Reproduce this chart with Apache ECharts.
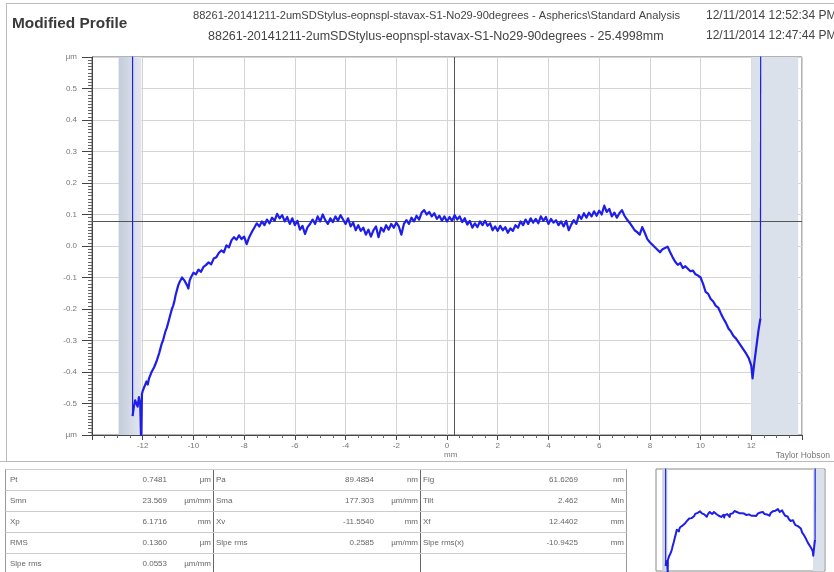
<!DOCTYPE html>
<html><head><meta charset="utf-8">
<script src="https://cdn.jsdelivr.net/npm/echarts@6/dist/echarts.min.js"></script>
<style>html,body{margin:0;padding:0;background:#fff}#c{width:834px;height:572px}</style>
</head><body><div id="c"></div>
<script>
const titleText = 'Modified Profile';
const headerLine1 = '88261-20141211-2umSDStylus-eopnspl-stavax-S1-No29-90degrees - Aspherics\\Standard Analysis';
const headerLine2 = '88261-20141211-2umSDStylus-eopnspl-stavax-S1-No29-90degrees - 25.4998mm';
const headerDate1 = '12/11/2014 12:52:34 PM';
const headerDate2 = '12/11/2014 12:47:44 PM';
const xUnit = 'mm';
const yUnit = 'µm';
const brandText = 'Taylor Hobson';
const xTickLabels = ['-12','-10','-8','-6','-4','-2','0','2','4','6','8','10','12'];
const yTickLabels = ['-0.5','-0.4','-0.3','-0.2','-0.1','0.0','0.1','0.2','0.3','0.4','0.5'];
const crossX = 0.28;
const crossY = 0.077;
const leftBand = [-12.95, -12.05];
const rightBand = [12.0, 13.85];
const leftEdgeLine = [[-12.40,0.65],[-12.40,-0.54]];
const rightEdgeLine = [[12.36,-0.23],[12.37,0.65]];
const profile = [
[-12.40,-0.54],[-12.35,-0.51],[-12.30,-0.49],[-12.25,-0.50],[-12.20,-0.51],[-12.15,-0.48],[-12.10,-0.50],[-12.06,-0.63],[-12.03,-0.47],
[-12.00,-0.46],[-11.95,-0.45],[-11.90,-0.455],[-11.85,-0.43],[-11.80,-0.44],[-11.75,-0.42],[-11.70,-0.425],[-11.65,-0.40],[-11.60,-0.405],[-11.55,-0.385],
[-11.50,-0.39],[-11.45,-0.365],[-11.40,-0.37],[-11.35,-0.34],[-11.30,-0.335],[-11.25,-0.31],[-11.20,-0.30],[-11.15,-0.285],[-11.10,-0.27],[-11.05,-0.26],
[-11.00,-0.245],[-10.95,-0.23],[-10.90,-0.225],[-10.85,-0.20],[-10.80,-0.19],[-10.75,-0.175],[-10.70,-0.155],[-10.65,-0.14],[-10.60,-0.125],[-10.55,-0.115],
[-10.50,-0.11],[-10.45,-0.10],[-10.40,-0.095],[-10.35,-0.11],[-10.30,-0.105],[-10.25,-0.125],[-10.20,-0.135],[-10.15,-0.11],[-10.10,-0.10],[-10.05,-0.095],
[-10.00,-0.085],[-9.9,-0.09],[-9.8,-0.075],[-9.7,-0.082],[-9.6,-0.066],[-9.5,-0.060],[-9.4,-0.052],[-9.3,-0.058],[-9.2,-0.040],[-9.1,-0.036],
[-9.0,-0.022],[-8.9,-0.014],[-8.8,-0.02],[-8.7,0.002],[-8.6,-0.004],[-8.5,0.018],[-8.4,0.028],[-8.3,0.02],[-8.2,0.034],[-8.1,0.022],
[-8.0,0.03],[-7.9,0.006],[-7.8,0.028],[-7.7,0.044],[-7.6,0.058],[-7.5,0.072],[-7.4,0.062],[-7.3,0.078],[-7.2,0.066],[-7.1,0.084],
[-7.0,0.072],[-6.9,0.09],[-6.8,0.08],[-6.7,0.102],[-6.6,0.088],[-6.5,0.098],[-6.4,0.078],[-6.3,0.092],[-6.2,0.07],[-6.1,0.088],
[-6.0,0.066],[-5.9,0.08],[-5.8,0.052],[-5.7,0.064],[-5.6,0.038],[-5.5,0.06],[-5.4,0.07],[-5.3,0.084],[-5.2,0.07],[-5.1,0.094],
[-5.0,0.078],[-4.9,0.1],[-4.8,0.082],[-4.7,0.07],[-4.6,0.088],[-4.5,0.076],[-4.4,0.094],[-4.3,0.08],[-4.2,0.098],[-4.1,0.084],
[-4.0,0.07],[-3.9,0.088],[-3.8,0.062],[-3.7,0.074],[-3.6,0.05],[-3.5,0.066],[-3.4,0.048],[-3.3,0.058],[-3.2,0.036],[-3.1,0.052],
[-3.0,0.03],[-2.9,0.05],[-2.8,0.062],[-2.7,0.028],[-2.6,0.058],[-2.5,0.046],[-2.4,0.066],[-2.3,0.052],[-2.2,0.07],[-2.1,0.058],
[-2.0,0.074],[-1.9,0.062],[-1.8,0.036],[-1.7,0.07],[-1.6,0.082],[-1.5,0.07],[-1.4,0.09],[-1.3,0.078],[-1.2,0.096],[-1.1,0.084],
[-1.0,0.106],[-0.9,0.114],[-0.8,0.1],[-0.7,0.108],[-0.6,0.094],[-0.5,0.104],[-0.4,0.086],[-0.3,0.096],[-0.2,0.08],[-0.1,0.094],
[0.0,0.078],[0.1,0.092],[0.2,0.08],[0.3,0.098],[0.4,0.084],[0.5,0.094],[0.6,0.076],[0.7,0.088],[0.8,0.068],[0.9,0.08],
[1.0,0.058],[1.1,0.072],[1.2,0.06],[1.3,0.078],[1.4,0.066],[1.5,0.08],[1.6,0.064],[1.7,0.072],[1.8,0.05],[1.9,0.062],
[2.0,0.048],[2.1,0.064],[2.2,0.05],[2.3,0.06],[2.4,0.042],[2.5,0.056],[2.6,0.048],[2.7,0.066],[2.8,0.058],[2.9,0.078],
[3.0,0.066],[3.1,0.084],[3.2,0.07],[3.3,0.088],[3.4,0.074],[3.5,0.086],[3.6,0.072],[3.7,0.094],[3.8,0.08],[3.9,0.092],
[4.0,0.07],[4.1,0.086],[4.2,0.074],[4.3,0.082],[4.4,0.066],[4.5,0.078],[4.6,0.062],[4.7,0.08],[4.8,0.05],[4.9,0.068],
[5.0,0.082],[5.1,0.07],[5.2,0.098],[5.3,0.086],[5.4,0.104],[5.5,0.09],[5.6,0.106],[5.7,0.094],[5.8,0.11],[5.9,0.096],
[6.0,0.112],[6.1,0.1],[6.2,0.128],[6.3,0.108],[6.4,0.118],[6.5,0.094],[6.6,0.106],[6.7,0.09],[6.8,0.104],[6.9,0.114],
[7.0,0.096],[7.1,0.084],[7.2,0.074],[7.3,0.062],[7.4,0.05],[7.5,0.044],[7.6,0.036],[7.7,0.06],[7.8,0.042],[7.9,0.022],
[8.0,0.012],[8.1,0.004],[8.2,-0.004],[8.3,-0.012],[8.4,-0.02],[8.5,-0.01],[8.6,-0.006],[8.7,-0.002],[8.8,-0.02],[8.9,-0.036],
[9.0,-0.05],[9.1,-0.06],[9.2,-0.054],[9.3,-0.07],[9.4,-0.064],[9.5,-0.072],[9.6,-0.08],[9.7,-0.078],[9.8,-0.09],[9.9,-0.094],
[10.0,-0.1],[10.1,-0.12],[10.2,-0.146],[10.3,-0.152],[10.4,-0.168],[10.5,-0.176],[10.6,-0.19],[10.7,-0.196],[10.8,-0.214],[10.9,-0.23],
[11.0,-0.244],[11.1,-0.262],[11.2,-0.272],[11.3,-0.286],[11.4,-0.294],[11.5,-0.306],[11.6,-0.318],[11.7,-0.33],[11.8,-0.342],[11.9,-0.356],
[12.0,-0.38],[12.05,-0.42],[12.12,-0.37],[12.2,-0.32],[12.28,-0.27],[12.36,-0.23]
];
const tableLabels1 = ['Pt','Smn','Xp','RMS','Slpe rms'];
const tableValues1 = ['0.7481','23.569','6.1716','0.1360','0.0553'];
const tableUnits1 = ['µm','µm/mm','mm','µm','µm/mm'];
const tableLabels2 = ['Pa','Sma','Xv','Slpe rms',''];
const tableValues2 = ['89.4854','177.303','-11.5540','0.2585',''];
const tableUnits2 = ['nm','µm/mm','mm','µm/mm',''];
const tableLabels3 = ['Fig','Tilt','Xf','Slpe rms(x)',''];
const tableValues3 = ['61.6269','2.462','12.4402','-10.9425',''];
const tableUnits3 = ['nm','Min','mm','mm',''];

const chart = echarts.init(document.getElementById('c'), null, {renderer:'canvas'});
const FONT = 'Liberation Sans, Arial, sans-serif';
const TRACE = '#1e1ee8';

const g = [];
g.push({type:'line', shape:{x1:6,y1:3.5,x2:834,y2:3.5}, style:{stroke:'#bbb',lineWidth:1}});
g.push({type:'line', shape:{x1:6.5,y1:3,x2:6.5,y2:461}, style:{stroke:'#bbb',lineWidth:1}});
g.push({type:'line', shape:{x1:0,y1:461.5,x2:834,y2:461.5}, style:{stroke:'#bbb',lineWidth:1}});
g.push({type:'text', left:12, top:16, style:{text:titleText, font:'bold 15.4px '+FONT, fill:'#3a3a3a'}});
g.push({type:'text', left:193, top:10, style:{text:headerLine1, font:'11.1px '+FONT, fill:'#444'}});
g.push({type:'text', left:208, top:30, style:{text:headerLine2, font:'12.5px '+FONT, fill:'#444'}});
g.push({type:'text', left:706, top:10, style:{text:headerDate1, font:'12px '+FONT, fill:'#444'}});
g.push({type:'text', left:706, top:30, style:{text:headerDate2, font:'12px '+FONT, fill:'#444'}});
g.push({type:'text', left:444, top:451, style:{text:xUnit, font:'8px '+FONT, fill:'#777'}});
g.push({type:'text', right:4, top:451, style:{text:brandText, font:'8.5px '+FONT, fill:'#777'}});

const rowTop = 469, rowH = 21;
const tL = 5.5, tSep1 = 213.5, tSep2 = 420.5, tR = 626.5;
g.push({type:'line', shape:{x1:tL,y1:rowTop,x2:tL,y2:572}, style:{stroke:'#999',lineWidth:1}});
g.push({type:'line', shape:{x1:tSep1,y1:rowTop,x2:tSep1,y2:572}, style:{stroke:'#666',lineWidth:1}});
g.push({type:'line', shape:{x1:tSep2,y1:rowTop,x2:tSep2,y2:572}, style:{stroke:'#666',lineWidth:1}});
g.push({type:'line', shape:{x1:tR,y1:rowTop,x2:tR,y2:572}, style:{stroke:'#999',lineWidth:1}});
for (let i=0;i<=5;i++){
  const y = rowTop + i*rowH + 0.5;
  g.push({type:'line', shape:{x1:tL,y1:y,x2:tR,y2:y}, style:{stroke:'#ccc',lineWidth:1}});
}
const cols = [
  {labels:tableLabels1, values:tableValues1, units:tableUnits1, lx:10, vx:167, ux:211},
  {labels:tableLabels2, values:tableValues2, units:tableUnits2, lx:216, vx:374, ux:418},
  {labels:tableLabels3, values:tableValues3, units:tableUnits3, lx:423, vx:578, ux:624}
];
cols.forEach(c=>{
  for (let i=0;i<5;i++){
    const cy = rowTop + i*rowH + rowH/2 + 0.5;
    g.push({type:'text', x:c.lx, y:cy, style:{text:c.labels[i], font:'8px '+FONT, fill:'#666', verticalAlign:'middle', align:'left'}});
    g.push({type:'text', x:c.vx, y:cy, style:{text:c.values[i], font:'8px '+FONT, fill:'#666', verticalAlign:'middle', align:'right'}});
    g.push({type:'text', x:c.ux, y:cy, style:{text:c.units[i], font:'8px '+FONT, fill:'#666', verticalAlign:'middle', align:'right'}});
  }
});

const leftGrad = new echarts.graphic.LinearGradient(0,0,1,0,[{offset:0,color:'#c3ccdc'},{offset:1,color:'#e3e7ee'}]);
const bandArea = [
  [{xAxis:leftBand[0], itemStyle:{color:leftGrad}},{xAxis:leftBand[1]}],
  [{xAxis:rightBand[0], itemStyle:{color:'#dbe1ea'}},{xAxis:rightBand[1]}]
];

function edgeSeries(data, xi){
  return {type:'line', xAxisIndex:xi, yAxisIndex:xi, data:data, showSymbol:false, symbol:'none', clip:true,
    lineStyle:{color:TRACE, width:1.2}, z:5};
}

const option = {
  animation:false,
  backgroundColor:'#fff',
  graphic: g,
  grid:[
    {left:92, top:57, width:710, height:378, show:true, borderColor:'#666', borderWidth:1, backgroundColor:'#fff'},
    {left:656, top:469, width:169, height:102, show:true, borderColor:'#888', borderWidth:1, backgroundColor:'#fff'}
  ],
  xAxis:[
    {type:'value', gridIndex:0, min:-14, max:14, interval:2,
     axisLine:{show:true, onZero:false, lineStyle:{color:'#444'}},
     axisTick:{show:true, length:5, lineStyle:{color:'#444'}},
     minorTick:{show:true, splitNumber:4, length:3, lineStyle:{color:'#666'}},
     axisLabel:{fontSize:8, color:'#777', fontFamily:FONT, margin:7,
       formatter:v=>{const s=String(Math.round(v)); return xTickLabels.indexOf(s)>=0?s:'';}},
     splitLine:{show:true, lineStyle:{color:'#d4d4d4'}}},
    {type:'value', gridIndex:1, min:-14, max:14, show:false}
  ],
  yAxis:[
    {type:'value', gridIndex:0, min:-0.6, max:0.6, interval:0.1,
     axisLine:{show:true, onZero:false, lineStyle:{color:'#444'}},
     axisTick:{show:true, length:10, lineStyle:{color:'#444'}},
     minorTick:{show:true, splitNumber:10, length:4, lineStyle:{color:'#666'}},
     axisLabel:{fontSize:8, color:'#777', fontFamily:FONT, margin:15,
       formatter:v=>{const s=v.toFixed(1); if (s==='-0.0') return '0.0'; if (Math.abs(v)>0.55) return yUnit; return yTickLabels.indexOf(s)>=0?s:'';}},
     splitLine:{show:true, lineStyle:{color:'#d4d4d4'}}},
    {type:'value', gridIndex:1, min:-0.6, max:0.6, show:false}
  ],
  series:[
    {type:'line', xAxisIndex:0, yAxisIndex:0, data:profile, showSymbol:false, symbol:'none', clip:true,
     lineStyle:{color:TRACE, width:2.2, join:'round'}, z:5,
     markArea:{silent:true, data:bandArea},
     markLine:{silent:true, symbol:'none', label:{show:false},
       lineStyle:{color:'#555', type:'solid', width:1},
       data:[{xAxis:crossX},{yAxis:crossY}]}},
    edgeSeries(leftEdgeLine, 0),
    edgeSeries(rightEdgeLine, 0),
    {type:'line', xAxisIndex:1, yAxisIndex:1, data:profile, showSymbol:false, symbol:'none', clip:true,
     lineStyle:{color:TRACE, width:2, join:'round'}, z:5,
     markArea:{silent:true, data:bandArea}},
    edgeSeries(leftEdgeLine, 1),
    edgeSeries(rightEdgeLine, 1)
  ]
};
chart.setOption(option);
</script>
</body></html>
